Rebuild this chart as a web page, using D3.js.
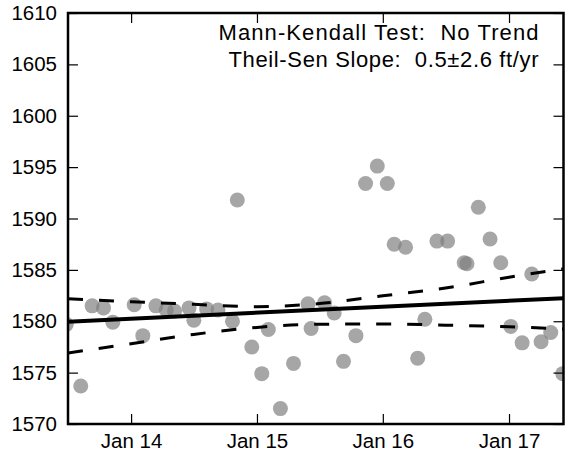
<!DOCTYPE html>
<html>
<head>
<meta charset="utf-8">
<script src="https://cdn.jsdelivr.net/npm/d3@7/dist/d3.min.js"></script>
<style>
  body { margin: 0; background: #fff; }
  svg { display: block; font-family: "Liberation Sans", Arial, Helvetica, sans-serif; }
</style>
</head>
<body>
<svg id="chart" width="565" height="457"></svg>
<script>
// ---- data ----
const obsDates = ["2013-06-27","2013-08-08","2013-09-10","2013-10-13","2013-11-09","2014-01-10","2014-02-04","2014-03-14","2014-04-13","2014-05-07","2014-06-18","2014-07-02","2014-08-08","2014-09-10","2014-10-22","2014-11-05","2014-12-17","2015-01-15","2015-02-03","2015-03-10","2015-04-17","2015-05-29","2015-06-07","2015-07-16","2015-08-13","2015-09-09","2015-10-15","2015-11-12","2015-12-16","2016-01-14","2016-02-03","2016-03-07","2016-04-11","2016-05-02","2016-06-06","2016-07-07","2016-08-24","2016-09-01","2016-10-04","2016-11-07","2016-12-08","2017-01-06","2017-02-08","2017-03-08","2017-04-04","2017-05-02","2017-06-06"];
const obsValues = [1579.7,1573.7,1581.5,1581.3,1579.9,1581.6,1578.6,1581.5,1581.1,1581.0,1581.3,1580.1,1581.2,1581.1,1580.0,1591.8,1577.5,1574.9,1579.2,1571.5,1575.9,1581.7,1579.3,1581.8,1580.8,1576.1,1578.6,1593.4,1595.1,1593.4,1587.5,1587.2,1576.4,1580.2,1587.8,1587.8,1585.7,1585.6,1591.1,1588.0,1585.7,1579.5,1577.9,1584.6,1578.0,1578.9,1574.9];

const trendDates = ["2013-07-02","2017-06-08"];
const trendValues = [1579.96, 1582.24];

const bandDates = ["2013-07-02","2014-01-01","2014-07-01","2015-01-01","2015-07-01","2016-01-01","2016-07-01","2017-01-01","2017-06-08"];
const upperValues = [1582.18,1581.90,1581.65,1581.42,1581.72,1582.48,1583.23,1584.28,1585.10];
const lowerValues = [1576.92,1577.82,1578.72,1579.40,1579.71,1579.73,1579.62,1579.47,1579.25];

const xTickDates = ["2014-01-01","2015-01-01","2016-01-01","2017-01-01"];
const xTickLabels = ["Jan 14","Jan 15","Jan 16","Jan 17"];
const yTicks = [1570,1575,1580,1585,1590,1595,1600,1605,1610];
const xDomain = ["2013-07-02","2017-06-08"];
const yDomain = [1570, 1610];

const annotation = ["Mann-Kendall Test:  No Trend", "Theil-Sen Slope:  0.5\u00b12.6 ft/yr"];

// ---- layout ----
const L = 68, R = 563.5, T = 13, B = 424;
const parse = d3.utcParse("%Y-%m-%d");
const x = d3.scaleUtc().domain(xDomain.map(parse)).range([L, R]);
const y = d3.scaleLinear().domain(yDomain).range([B, T]);

const svg = d3.select("#chart");

svg.append("defs").append("clipPath").attr("id", "clip")
  .append("rect").attr("x", L).attr("y", T).attr("width", R - L).attr("height", B - T);

const plot = svg.append("g").attr("clip-path", "url(#clip)");

// points
const pts = obsDates.map((d, i) => ({ date: parse(d), v: obsValues[i] }));
plot.selectAll("circle").data(pts).join("circle")
  .attr("cx", d => x(d.date))
  .attr("cy", d => y(d.v))
  .attr("r", 7.5)
  .attr("fill", "#808080")
  .attr("fill-opacity", 0.7);

// confidence bands
const line = d3.line().x(d => x(d.date)).y(d => y(d.v)).curve(d3.curveMonotoneX);
const up = bandDates.map((d, i) => ({ date: parse(d), v: upperValues[i] }));
const lo = bandDates.map((d, i) => ({ date: parse(d), v: lowerValues[i] }));
[up, lo].forEach(s => {
  plot.append("path").datum(s).attr("d", line)
    .attr("fill", "none").attr("stroke", "#000")
    .attr("stroke-width", 3).attr("stroke-dasharray", "15,16");
});

// trend
const tr = trendDates.map((d, i) => ({ date: parse(d), v: trendValues[i] }));
plot.append("path").datum(tr).attr("d", d3.line().x(d => x(d.date)).y(d => y(d.v)))
  .attr("fill", "none").attr("stroke", "#000").attr("stroke-width", 4);

// axes
const tickDates = xTickDates.map(parse);
const fmt = d => xTickLabels[tickDates.findIndex(t => +t === +d)];

const xb = svg.append("g").attr("transform", `translate(0,${B})`)
  .call(d3.axisBottom(x).tickValues(tickDates).tickFormat(fmt).tickSizeInner(-10).tickSizeOuter(0).tickPadding(9));
const xt = svg.append("g").attr("transform", `translate(0,${T})`)
  .call(d3.axisTop(x).tickValues(tickDates).tickFormat("").tickSizeInner(-10).tickSizeOuter(0));
const yl = svg.append("g").attr("transform", `translate(${L},0)`)
  .call(d3.axisLeft(y).tickValues(yTicks).tickFormat(d3.format("d")).tickSizeInner(-10).tickSizeOuter(0).tickPadding(11));
const yr = svg.append("g").attr("transform", `translate(${R},0)`)
  .call(d3.axisRight(y).tickValues(yTicks).tickFormat("").tickSizeInner(-10).tickSizeOuter(0));

[xb, xt, yl, yr].forEach(g => {
  g.select(".domain").remove();
  g.selectAll(".tick line").attr("stroke", "#000").attr("stroke-width", 1.2);
  g.selectAll("text").attr("font-size", 20.5).attr("fill", "#000")
    .attr("font-family", "'Liberation Sans', Arial, sans-serif");
});

// frame
svg.append("rect").attr("x", L).attr("y", T).attr("width", R - L).attr("height", B - T)
  .attr("fill", "none").attr("stroke", "#000").attr("stroke-width", 2.5);

// annotation
const annWidths = [320, 310];
svg.append("g").selectAll("text").data(annotation).join("text")
  .attr("x", 538.5)
  .attr("y", (d, i) => 40 + i * 26.5)
  .attr("text-anchor", "end")
  .attr("font-size", 22)
  .attr("fill", "#000")
  .attr("textLength", (d, i) => annWidths[i])
  .attr("lengthAdjust", "spacing")
  .style("white-space", "pre")
  .attr("xml:space", "preserve")
  .text(d => d);
</script>
</body>
</html>
